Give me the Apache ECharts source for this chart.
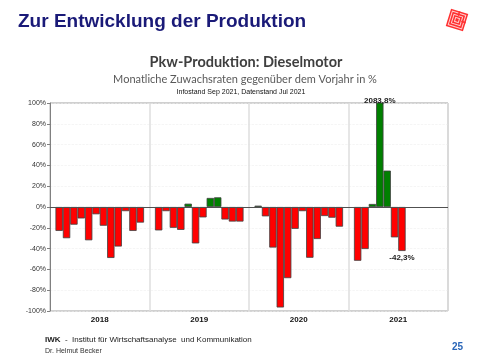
<!DOCTYPE html>
<html><head><meta charset="utf-8">
<script src="https://cdn.jsdelivr.net/npm/echarts@6/dist/echarts.min.js"></script>
<style>html,body{margin:0;padding:0;background:#fff}#c{width:480px;height:360px}</style>
</head><body><div id="c"></div>
<script>
const years = ['2018', '2019', '2020', '2021'];
const yTicks = [-100, -80, -60, -40, -20, 0, 20, 40, 60, 80, 100];
const v2018 = [-23, -30, -17, -11, -32, -7, -18, -49, -38, -4, -23, -15];
const v2019 = [-22.5, -4, -20, -22, 3.2, -35, -10, 8.7, 9.3, -12, -14, -14];
const v2020 = [1.3, -9, -39, -96.6, -68.4, -21, -4, -48.8, -30.8, -8.7, -10.3, -18.9];
const v2021 = [-51.7, -40.4, 2.9, 2083.8, 35, -29.2, -42.3, null, null, null, null, null];
const labelled = { '2021-3': '2083,8%', '2021-6': '-42,3%' };

const byYear = [v2018, v2019, v2020, v2021];
const series = [];
for (let m = 0; m < 12; m++) {
  series.push({
    type: 'bar',
    name: 'M' + (m + 1),
    barGap: '0%',
    barCategoryGap: '11%',
    clip: true,
    data: byYear.map((arr, yi) => {
      const v = arr[m];
      const key = years[yi] + '-' + m;
      const item = {
        value: v,
        itemStyle: { color: v >= 0 ? '#008000' : '#ff0000', borderColor: '#404040', borderWidth: 0.8 }
      };
      if (labelled[key]) {
        item.label = {
          show: true,
          position: v >= 0 ? 'top' : 'bottom',
          distance: v >= 0 ? -2 : 3,
          formatter: labelled[key],
          fontFamily: 'Liberation Sans, Arial',
          fontWeight: 'bold',
          fontSize: 8,
          color: '#222'
        };
      }
      return item;
    }),
    markLine: m === 0 ? {
      silent: true, symbol: 'none', label: { show: false },
      lineStyle: { color: '#505050', type: 'solid', width: 1 },
      data: [{ yAxis: 0 }]
    } : undefined
  });
}

const chart = echarts.init(document.getElementById('c'));
chart.setOption({
  animation: false,
  grid: { left: 50, right: 32, top: 103, bottom: 49, show: true, borderColor: '#a0a0a0', borderWidth: 1 },
  xAxis: [
    {
      type: 'category', data: years,
      axisLine: { show: false },
      axisTick: { show: false },
      axisLabel: { show: true, fontFamily: 'Liberation Sans, Arial', fontWeight: 'bold', fontSize: 8, color: '#111', margin: 5 },
      splitLine: { show: true, lineStyle: { color: '#dedede', width: 1.5 } }
    }
  ],
  yAxis: {
    type: 'value', min: -100, max: 100, interval: 20,
    axisLine: { show: true, lineStyle: { color: '#808080', width: 1 } },
    axisTick: { show: true, length: 3, lineStyle: { color: '#808080' } },
    axisLabel: {
      fontFamily: 'Liberation Sans, Arial', fontSize: 7, color: '#333', margin: 4,
      formatter: v => yTicks.includes(v) ? v + '%' : ''
    },
    splitLine: { show: true, lineStyle: { color: '#efefef', type: 'dashed', width: 0.6 } }
  },
  series: series,
  graphic: [
    { type: 'text', left: 18, top: 12, style: { text: 'Zur Entwicklung der Produktion', font: 'bold 19px "Liberation Sans", Arial', fill: '#1a1a78' } },
    { type: 'text', x: 246, y: 62, style: { text: 'Pkw-Produktion: Dieselmotor', font: 'bold 14.5px Lato, "Open Sans", sans-serif', fill: '#3f3f3f', align: 'center', verticalAlign: 'middle' } },
    { type: 'text', x: 245, y: 79, style: { text: 'Monatliche Zuwachsraten gegenüber dem Vorjahr in %', font: '11px Lato, "Open Sans", sans-serif', fill: '#595959', align: 'center', verticalAlign: 'middle' } },
    { type: 'text', x: 241, y: 92, style: { text: 'Infostand Sep 2021, Datenstand Jul 2021', font: '7px "Liberation Sans", Arial', fill: '#111', align: 'center', verticalAlign: 'middle' } },
    { type: 'text', x: 45, y: 340, style: { text: '{b|IWK}  -  Institut für Wirtschaftsanalyse  und Kommunikation', font: '8px "Liberation Sans", Arial', fill: '#222', verticalAlign: 'middle', rich: { b: { fontWeight: 'bold', fontSize: 8, fontFamily: 'Liberation Sans', fill: '#222' } } } },
    { type: 'text', x: 45, y: 351, style: { text: 'Dr. Helmut Becker', font: '7px "Liberation Sans", Arial', fill: '#333', verticalAlign: 'middle' } },
    { type: 'text', x: 452, y: 347, style: { text: '25', font: 'bold 10px "Liberation Sans", Arial', fill: '#2a66b8', verticalAlign: 'middle' } },
    {
      type: 'group', x: 457, y: 20, rotation: -0.3,
      children: [
        { type: 'rect', shape: { x: -9, y: -9, width: 18, height: 18 }, style: { fill: '#ff3030' } },
        { type: 'rect', shape: { x: -7, y: -7, width: 14, height: 14 }, style: { fill: 'none', stroke: '#ffd0d0', lineWidth: 1 } },
        { type: 'rect', shape: { x: -4.5, y: -4.5, width: 9, height: 9 }, style: { fill: 'none', stroke: '#ffd0d0', lineWidth: 1 } },
        { type: 'rect', shape: { x: -2, y: -2, width: 4, height: 4 }, style: { fill: 'none', stroke: '#ffd0d0', lineWidth: 1 } },
        { type: 'line', shape: { x1: 0, y1: -9, x2: 0, y2: -4.5 }, style: { stroke: '#ff3030', lineWidth: 1.5 } },
        { type: 'line', shape: { x1: 4.5, y1: 0, x2: 9, y2: 0 }, style: { stroke: '#ff3030', lineWidth: 1.5 } }
      ]
    }
  ]
});
</script></body></html>
